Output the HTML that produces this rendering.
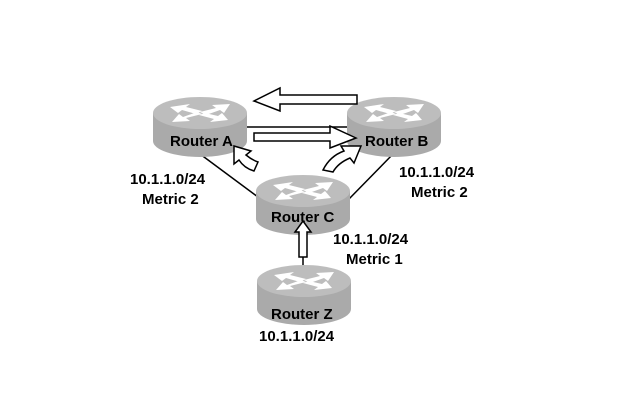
<!DOCTYPE html>
<html><head><style>
html,body{margin:0;padding:0;background:#fff;width:640px;height:400px;overflow:hidden}
text{font-family:"Liberation Sans",Arial,sans-serif;font-weight:bold;fill:#000}
</style></head><body>
<svg width="640" height="400" viewBox="0 0 640 400" xmlns="http://www.w3.org/2000/svg">
<defs>
<g id="rt">
  <path d="M-47,0 L-47,28 A47,16 0 0 0 47,28 L47,0 Z" fill="#aaaaaa"/>
  <ellipse cx="0" cy="0" rx="47" ry="16" fill="#bdbdbd"/>
  <path d="M-30,-6 L-10,-9 L-14,-6 L2,-2 L-4,1 L-18,-3 L-22,0 Z" fill="#fff"/>
  <path d="M30,-9 L12,-8 L16,-5 L0,-1 L6,2 L20,-3 L24,0 Z" fill="#fff"/>
  <path d="M-28,9 L-10,8 L-14,5 L2,1 L-3,-1 L-17,4 L-21,1 Z" fill="#fff"/>
  <path d="M28,7 L10,9 L14,6 L-1,2 L5,0 L18,3 L22,0 Z" fill="#fff"/>
</g>
</defs>
<g stroke="#000" stroke-width="1.5">
<line x1="246" y1="127" x2="350" y2="127"/>
<line x1="200" y1="154" x2="262" y2="200"/>
<line x1="394" y1="153" x2="348" y2="200"/>
<line x1="303" y1="228" x2="303" y2="268"/>
</g>
<use href="#rt" x="200" y="113"/>
<use href="#rt" x="394" y="113"/>
<use href="#rt" x="303" y="191"/>
<use href="#rt" x="304" y="281"/>
<g fill="#fff" stroke="#000" stroke-width="1.5">
<path d="M357,95 L280,95 L280,88 L254,101 L280,111 L280,104 L357,104 Z"/>
<path d="M254,133 L330,133 L330,126 L356,138 L330,148 L330,141 L254,141 Z"/>
<path d="M234,146 L251,151 L246,155 Q252,160 258,162 L254,171 Q244,168 239,160 L234,164 Z"/>
<path d="M361,146 L354,163 L350,158 Q338,163 333,172 L323,170 Q330,156 344,151 L341,146 Z"/>
<path d="M299,257 L299,232 L295,232 L303,221 L311,232 L307,232 L307,257 Z"/>
</g>
<g font-size="15">
<text x="170" y="146">Router A</text>
<text x="365" y="146">Router B</text>
<text x="271" y="222">Router C</text>
<text x="271" y="319">Router Z</text>
<text x="130" y="184">10.1.1.0/24</text>
<text x="142" y="204">Metric 2</text>
<text x="399" y="177">10.1.1.0/24</text>
<text x="411" y="197">Metric 2</text>
<text x="333" y="244">10.1.1.0/24</text>
<text x="346" y="264">Metric 1</text>
<text x="259" y="341">10.1.1.0/24</text>
</g>
</svg>
</body></html>
